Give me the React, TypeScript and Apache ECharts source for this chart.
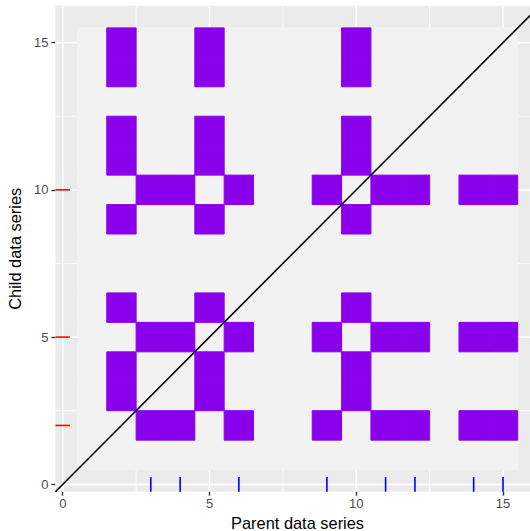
import React, { useEffect, useRef } from "react";
import * as echarts from "echarts";

// Tile matrix: rows are y = 15 down to 1, columns x = 1..15
const tileRows: number[][] = [
  [0, 1, 0, 0, 1, 0, 0, 0, 0, 1, 0, 0, 0, 0, 0], // y = 15
  [0, 1, 0, 0, 1, 0, 0, 0, 0, 1, 0, 0, 0, 0, 0], // y = 14
  [0, 0, 0, 0, 0, 0, 0, 0, 0, 0, 0, 0, 0, 0, 0], // y = 13
  [0, 1, 0, 0, 1, 0, 0, 0, 0, 1, 0, 0, 0, 0, 0], // y = 12
  [0, 1, 0, 0, 1, 0, 0, 0, 0, 1, 0, 0, 0, 0, 0], // y = 11
  [0, 0, 1, 1, 0, 1, 0, 0, 1, 0, 1, 1, 0, 1, 1], // y = 10
  [0, 1, 0, 0, 1, 0, 0, 0, 0, 1, 0, 0, 0, 0, 0], // y = 9
  [0, 0, 0, 0, 0, 0, 0, 0, 0, 0, 0, 0, 0, 0, 0], // y = 8
  [0, 0, 0, 0, 0, 0, 0, 0, 0, 0, 0, 0, 0, 0, 0], // y = 7
  [0, 1, 0, 0, 1, 0, 0, 0, 0, 1, 0, 0, 0, 0, 0], // y = 6
  [0, 0, 1, 1, 0, 1, 0, 0, 1, 0, 1, 1, 0, 1, 1], // y = 5
  [0, 1, 0, 0, 1, 0, 0, 0, 0, 1, 0, 0, 0, 0, 0], // y = 4
  [0, 1, 0, 0, 1, 0, 0, 0, 0, 1, 0, 0, 0, 0, 0], // y = 3
  [0, 0, 1, 1, 0, 1, 0, 0, 1, 0, 1, 1, 0, 1, 1], // y = 2
  [0, 0, 0, 0, 0, 0, 0, 0, 0, 0, 0, 0, 0, 0, 0], // y = 1
];
const topRowY = 15;

// Rug marks
const parentRug = [3, 4, 6, 9, 11, 12, 14, 15];
const childRug = [2, 5, 10];

// Axis breaks and limits
const majorBreaks = [0, 5, 10, 15];
const minorBreaks = [2.5, 7.5, 12.5];
const axisLimits = [-0.25, 16.25];

const xTitle = "Parent data series";
const yTitle = "Child data series";

const FONT = "'Liberation Sans', Arial, Helvetica, sans-serif";

export default function App() {
  const ref = useRef<HTMLDivElement>(null);

  useEffect(() => {
    if (!ref.current) return;
    const chart = echarts.init(ref.current, undefined, { renderer: "svg" });

    const emptyTiles: number[][] = [];
    const filledTiles: number[][] = [];
    tileRows.forEach((row, ri) => {
      row.forEach((v, ci) => {
        (v === 1 ? filledTiles : emptyTiles).push([ci + 1, topRowY - ri, v]);
      });
    });

    const gridData: number[][] = [];
    majorBreaks.forEach((b) => {
      gridData.push([b, 0, 1]);
      gridData.push([b, 1, 1]);
    });
    minorBreaks.forEach((b) => {
      gridData.push([b, 0, 0]);
      gridData.push([b, 1, 0]);
    });

    const [lo, hi] = axisLimits;

    const tileRenderer = (fill: string, strokeW: number) => (params: any, api: any) => {
      const x = api.value(0);
      const y = api.value(1);
      const a = api.coord([x - 0.5, y + 0.5]);
      const b = api.coord([x + 0.5, y - 0.5]);
      return {
        type: "rect",
        shape: { x: a[0], y: a[1], width: b[0] - a[0], height: b[1] - a[1] },
        style: { fill, stroke: fill, lineWidth: strokeW },
      };
    };

    const axisCommon = {
      type: "value",
      min: lo,
      max: hi,
      nameLocation: "middle",
      nameTextStyle: { color: "#000000", fontSize: 16.4, fontFamily: FONT },
      axisLine: { show: false, onZero: false },
      axisTick: {
        show: true,
        customValues: majorBreaks,
        length: 4,
        lineStyle: { color: "#333333", width: 1.4 },
      },
      splitLine: { show: false },
    };

    const option: any = {
      animation: false,
      backgroundColor: "#FFFFFF",
      grid: {
        left: 55.4,
        width: 484.3,
        top: 5.8,
        height: 485.9,
        show: true,
        backgroundColor: "#EBEBEB",
        borderWidth: 0,
        containLabel: false,
        outerBoundsMode: "none",
      },
      xAxis: {
        ...axisCommon,
        name: xTitle,
        nameGap: 20,
        axisLabel: {
          show: true,
          customValues: majorBreaks,
          color: "#4D4D4D",
          fontSize: 13,
          fontFamily: FONT,
          margin: 5,
        },
      },
      yAxis: {
        ...axisCommon,
        name: yTitle,
        nameGap: 28,
        nameRotate: 90,
        axisLabel: {
          show: true,
          customValues: majorBreaks,
          color: "#4D4D4D",
          fontSize: 13,
          fontFamily: FONT,
          margin: 7,
        },
      },
      series: [
        {
          type: "custom",
          name: "grid",
          z: 1,
          silent: true,
          clip: true,
          data: gridData,
          renderItem: (params: any, api: any) => {
            const v = api.value(0);
            const isY = api.value(1) === 1;
            const major = api.value(2) === 1;
            const p0 = isY ? api.coord([lo, v]) : api.coord([v, lo]);
            const p1 = isY ? api.coord([hi, v]) : api.coord([v, hi]);
            return {
              type: "line",
              shape: { x1: p0[0], y1: p0[1], x2: p1[0], y2: p1[1] },
              style: { stroke: "#FFFFFF", lineWidth: major ? 1.6 : 0.8 },
            };
          },
        },
        {
          type: "custom",
          name: "emptyTiles",
          z: 2,
          silent: true,
          data: emptyTiles,
          renderItem: tileRenderer("#F2F2F2", 1),
        },
        {
          type: "custom",
          name: "filledTiles",
          z: 3,
          silent: true,
          data: filledTiles,
          renderItem: tileRenderer("#8B00EA", 1),
        },
        {
          type: "line",
          name: "identity",
          z: 4,
          silent: true,
          symbol: "none",
          data: [
            [lo, lo],
            [hi, hi],
          ],
          lineStyle: { color: "#000000", width: 1.6 },
        },
        {
          type: "custom",
          name: "parentRug",
          z: 5,
          silent: true,
          data: parentRug.map((v) => [v, lo]),
          renderItem: (params: any, api: any) => {
            const p = api.coord([api.value(0), lo]);
            const len = params.coordSys.height * 0.03;
            return {
              type: "line",
              shape: { x1: p[0], y1: p[1], x2: p[0], y2: p[1] - len },
              style: { stroke: "#0000FF", lineWidth: 1.6 },
            };
          },
        },
        {
          type: "custom",
          name: "childRug",
          z: 5,
          silent: true,
          data: childRug.map((v) => [lo, v]),
          renderItem: (params: any, api: any) => {
            const p = api.coord([lo, api.value(1)]);
            const len = params.coordSys.width * 0.03;
            return {
              type: "line",
              shape: { x1: p[0], y1: p[1], x2: p[0] + len, y2: p[1] },
              style: { stroke: "#FF0000", lineWidth: 1.6 },
            };
          },
        },
      ],
    };

    chart.setOption(option);
    return () => {
      chart.dispose();
    };
  }, []);

  return (
    <div
      style={{ position: "absolute", left: 0, top: 0, width: 530, height: 531, overflow: "hidden" }}
    >
      <div ref={ref} style={{ width: 545, height: 531 }} />
    </div>
  );
}
